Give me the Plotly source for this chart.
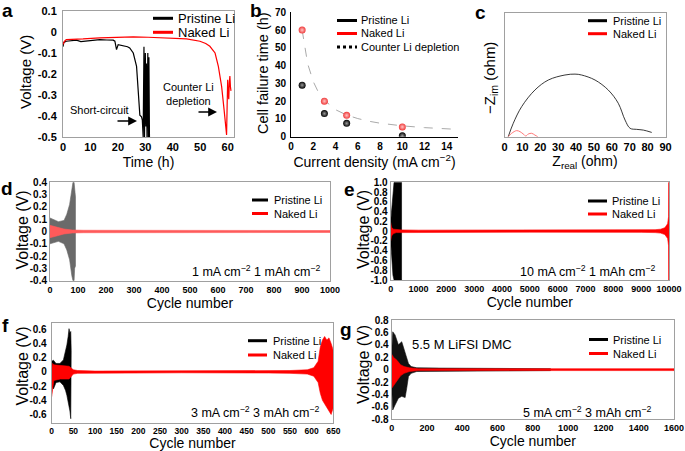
import plotly.graph_objects as go

W, H = 685, 451
FONT = "Arial, 'Liberation Sans', sans-serif"

# ---------------- data ----------------
# (a) voltage vs time
time_pristine = [0, 0.3, 1.2, 3, 4.9, 6.5, 8.5, 11, 13.4, 16, 18.3, 18.9, 19.5, 20.1, 21.9, 23.5, 24.3,
                 25.6, 26.8, 27.4, 28.0, 28.6, 28.9, 29.2, 29.5, 29.7, 30.0, 30.2, 30.4, 30.6, 30.9,
                 31.1, 31.3, 31.5]
volt_pristine = [-0.07, -0.05, -0.044, -0.04, -0.039, -0.046, -0.044, -0.04, -0.036, -0.038, -0.039,
                 -0.044, -0.084, -0.06, -0.065, -0.07, -0.076, -0.1, -0.164, -0.26, -0.396, -0.404,
                 -0.42, -0.5, -0.07, -0.5, -0.1, -0.45, -0.15, -0.5, -0.1, -0.5, -0.12, -0.5]
time_naked = [0, 0.5, 1.2, 4, 7.3, 13.4, 20, 25.6, 31, 37.7, 45, 49.9, 52, 53.5, 55.4, 56.6, 57.8,
              58.7, 59.4, 59.6, 59.8, 60.0, 60.2, 60.4, 60.6, 60.8, 61.0, 61.2]
volt_naked = [-0.06, -0.045, -0.036, -0.035, -0.033, -0.028, -0.026, -0.023, -0.025, -0.028, -0.033,
              -0.044, -0.055, -0.068, -0.1, -0.164, -0.26, -0.372, -0.468, -0.49, -0.35, -0.228,
              -0.3, -0.32, -0.24, -0.21, -0.26, -0.28]

# (b) cell failure time vs current density
current = [1, 3, 5, 10]
fail_pristine = [29, 13, 7.5, 0.5]
fail_naked = [60, 20, 12, 5.5]
depl_x = [1, 1.5, 2, 2.5, 3, 4, 5, 6, 7, 8, 10, 12, 15]
depl_y = [60, 41, 31, 24.5, 20.5, 15.2, 12.2, 10.2, 8.7, 7.6, 6.1, 5.1, 4.1]

# (c) Nyquist plot
zre_pristine = [2.1, 4.9, 9.6, 17.0, 24.5, 33.8, 39.4, 43.1, 50.6, 58.0, 63.6, 67.4, 70.2, 73.9, 77.6, 82.3]
zim_pristine = [0, 7.5, 16.8, 26.1, 31.7, 34.5, 35.0, 34.5, 31.7, 26.1, 18.7, 9.3, 4.7, 4.1, 3.7, 2.4]
zre_naked = [2.1, 4.0, 6.8, 8.7, 10.5, 11.9, 13.3, 15.2, 17.0, 18.6]
zim_naked = [0, 1.9, 3.4, 2.8, 1.5, 0.4, 1.5, 1.9, 0.9, 0]

# (d) 1 mA cm-2, 1 mAh cm-2 : voltage envelopes
d_pri_cyc = [0, 10, 30, 50, 60, 70, 78, 82, 86, 88, 91]
d_pri_hi = [0.11, 0.1, 0.08, 0.09, 0.14, 0.22, 0.35, 0.4, 0.4, 0.33, 0.28]
d_pri_lo = [-0.1, -0.09, -0.08, -0.1, -0.15, -0.23, -0.36, -0.4, -0.4, -0.3, -0.28]
d_nak_cyc = [0, 10, 30, 50, 80, 120, 1000]
d_nak_hi = [0.05, 0.045, 0.035, 0.02, 0.012, 0.01, 0.008]
d_nak_lo = [-0.05, -0.045, -0.035, -0.02, -0.012, -0.01, -0.008]

# (e) 10 mA cm-2, 1 mAh cm-2
e_pri_cyc = [0, 40, 80, 120, 380, 390]
e_pri_hi = [0.2, 0.45, 0.85, 1.0, 1.0, 1.0]
e_pri_lo = [-0.2, -0.5, -0.9, -1.0, -1.0, -1.0]
e_nak_cyc = [0, 30, 100, 200, 400, 1000, 5000, 9000, 9500, 9700, 9850, 9950, 9985, 9990, 10000]
e_nak_hi = [0.18, 0.08, 0.04, 0.03, 0.025, 0.02, 0.02, 0.025, 0.03, 0.04, 0.07, 0.15, 0.3, 1.0, 1.0]
e_nak_lo = [-0.2, -0.1, -0.05, -0.03, -0.025, -0.02, -0.02, -0.025, -0.03, -0.04, -0.07, -0.15, -0.3, -1.0, -1.0]

# (f) 3 mA cm-2, 3 mAh cm-2
f_pri_cyc = [0, 4, 10, 19, 27, 32, 35, 38, 40, 42, 44, 45]
f_pri_hi = [0.15, 0.165, 0.12, 0.12, 0.17, 0.28, 0.38, 0.5, 0.61, 0.55, 0.57, 0.3]
f_pri_lo = [-0.15, -0.24, -0.15, -0.14, -0.19, -0.26, -0.33, -0.4, -0.47, -0.55, -0.66, -0.3]
f_nak_cyc = [0, 2, 5, 20, 40, 50, 60, 100, 300, 500, 550, 590, 605, 615, 620, 625, 630, 635, 640, 645, 650]
f_nak_hi = [0.05, 0.12, 0.1, 0.09, 0.08, 0.03, 0.02, 0.012, 0.012, 0.015, 0.02, 0.03, 0.06, 0.15, 0.35,
            0.45, 0.5, 0.45, 0.48, 0.4, 0.3]
f_nak_lo = [-0.35, -0.25, -0.12, -0.1, -0.1, -0.03, -0.02, -0.012, -0.012, -0.015, -0.02, -0.03, -0.06,
            -0.15, -0.3, -0.4, -0.45, -0.5, -0.55, -0.6, -0.5]

# (g) 5 mA cm-2, 3 mAh cm-2, 5.5 M LiFSI DMC
g_pri_cyc = [0, 6, 19, 38, 57, 76, 85, 95, 110, 142, 274, 500, 700, 900]
g_pri_hi = [0.3, 0.61, 0.56, 0.4, 0.45, 0.26, 0.2, 0.1, 0.05, 0.03, 0.025, 0.02, 0.02, 0.015]
g_pri_lo = [-0.3, -0.65, -0.57, -0.46, -0.43, -0.45, -0.3, -0.11, -0.06, -0.03, -0.025, -0.02, -0.02, -0.015]
g_nak_cyc = [0, 10, 30, 50, 70, 100, 150, 700, 1600]
g_nak_hi = [0.25, 0.2, 0.15, 0.08, 0.05, 0.03, 0.015, 0.012, 0.015]
g_nak_lo = [-0.3, -0.25, -0.18, -0.1, -0.06, -0.03, -0.015, -0.012, -0.015]

# tick labels
a_yticks = [0.1, 0, -0.1, -0.2, -0.3, -0.4, -0.5]
d_yticks = [0.4, 0.3, 0.2, 0.1, 0, -0.1, -0.2, -0.3, -0.4]
e_yticks = [1.0, 0.8, 0.6, 0.4, 0.2, 0, -0.2, -0.4, -0.6, -0.8, -1.0]
f_yticks = [0.6, 0.4, 0.2, 0, -0.2, -0.4, -0.6]
g_yticks = [0.8, 0.6, 0.4, 0.2, 0, -0.2, -0.4, -0.6, -0.8]
d_xticks = list(range(0, 1001, 100))
e_xticks = list(range(0, 10001, 1000))
f_xticks = list(range(0, 651, 50))
g_xticks = list(range(0, 1601, 200))


def fmt(v, dec):
    if v == 0:
        return "0"
    return ("-" if v < 0 else "") + f"{abs(v):.{dec}f}"


# ---------------- helpers ----------------
def px(x):
    return x / W


def py(y):
    return 1 - y / H


fig = go.Figure()

BLACK = "#000000"
RED = "#ff0000"


def band(cyc, hi, lo, color, ax, name):
    fig.add_trace(go.Scatter(
        x=cyc + cyc[::-1], y=hi + lo[::-1], fill="toself", fillcolor=color,
        line=dict(color=color, width=0.6), mode="lines", name=name,
        showlegend=False, xaxis="x" + ax, yaxis="y" + ax, hoverinfo="skip"))


# (a)
fig.add_trace(go.Scatter(x=time_pristine, y=volt_pristine, mode="lines", name="Pristine Li",
                         line=dict(color=BLACK, width=1.2), showlegend=False, xaxis="x", yaxis="y"))
fig.add_trace(go.Scatter(x=time_naked, y=volt_naked, mode="lines", name="Naked Li",
                         line=dict(color=RED, width=1.2), showlegend=False, xaxis="x", yaxis="y"))

# (b)
fig.add_trace(go.Scatter(x=depl_x, y=depl_y, mode="lines", name="Counter Li depletion",
                         line=dict(color="#aaaaaa", width=1, dash="dash"), showlegend=False,
                         xaxis="x2", yaxis="y2"))
fig.add_trace(go.Scatter(x=current, y=fail_pristine, mode="markers", name="Pristine Li",
                         marker=dict(color="#000000", size=7,
                                     gradient=dict(type="radial", color="#9a9a9a")),
                         showlegend=False, xaxis="x2", yaxis="y2"))
fig.add_trace(go.Scatter(x=current, y=fail_naked, mode="markers", name="Naked Li",
                         marker=dict(color="#f03a3a", size=7,
                                     gradient=dict(type="radial", color="#ffc4c4")),
                         showlegend=False, xaxis="x2", yaxis="y2"))

# (c)
fig.add_trace(go.Scatter(x=zre_pristine, y=zim_pristine, mode="lines", name="Pristine Li",
                         line=dict(color="#222222", width=0.9, shape="spline"), showlegend=False,
                         xaxis="x3", yaxis="y3"))
fig.add_trace(go.Scatter(x=zre_naked, y=zim_naked, mode="lines", name="Naked Li",
                         line=dict(color="#ff6a6a", width=0.9, shape="spline"), showlegend=False,
                         xaxis="x3", yaxis="y3"))

# (d)-(g)
band(d_pri_cyc, d_pri_hi, d_pri_lo, "#6a6a6a", "4", "Pristine Li")
band(d_nak_cyc, d_nak_hi, d_nak_lo, "#ff5a5a", "4", "Naked Li")
band(e_pri_cyc, e_pri_hi, e_pri_lo, "#000000", "5", "Pristine Li")
band(e_nak_cyc, e_nak_hi, e_nak_lo, "#ff0000", "5", "Naked Li")
band(f_pri_cyc, f_pri_hi, f_pri_lo, "#000000", "6", "Pristine Li")
band(f_nak_cyc, f_nak_hi, f_nak_lo, "#ff0000", "6", "Naked Li")
band(g_pri_cyc, g_pri_hi, g_pri_lo, "#111111", "7", "Pristine Li")
band(g_nak_cyc, g_nak_hi, g_nak_lo, "#ff0000", "7", "Naked Li")

FRAME = "#a0a0a0"


def axis(dom, rng, tickvals=None, ticktext=None, title=None, standoff=5, tsize=10, frame=True,
         showticklabels=True, ticklen=0, linecolor=FRAME, anchor=None, titlesize=14):
    d = dict(domain=dom, range=rng, showgrid=False, zeroline=False, showline=True,
             linecolor=linecolor, linewidth=1, mirror=frame, automargin=False,
             ticks="outside" if ticklen else "", ticklen=ticklen, tickcolor="rgba(0,0,0,0)",
             showticklabels=showticklabels, ticklabeloverflow="allow",
             tickfont=dict(family=FONT, size=tsize, color="#000", weight="bold"),
             anchor=anchor)
    if tickvals is not None:
        d["tickmode"] = "array"
        d["tickvals"] = tickvals
        if ticktext is not None:
            d["ticktext"] = ticktext
    if title:
        d["title"] = dict(text=title, standoff=standoff,
                          font=dict(family=FONT, size=titlesize, color="#000"))
    return d


layout = dict(
    width=W, height=H, margin=dict(l=0, r=0, t=0, b=0), autosize=False,
    template="none", plot_bgcolor="white", paper_bgcolor="white", showlegend=False,
    font=dict(family=FONT, color="#000"),
)

# (a) axes
layout["xaxis"] = axis([px(63), px(234)], [0, 62.3], list(range(0, 61, 10)), None, "Time (h)", 4, 11,
                       anchor="y")
layout["yaxis"] = axis([py(137), py(11)], [-0.5, 0.1], a_yticks, [fmt(v, 1) for v in a_yticks],
                       None, 0, 11, ticklen=3, anchor="x")
# (b) axes
layout["xaxis2"] = axis([px(291), px(458)], [0, 15], list(range(0, 15, 2)), None,
                        "Current density (mA cm<sup>−2</sup>)", 4, 10, frame=False, linecolor="#000",
                        anchor="y2")
layout["yaxis2"] = axis([py(136.7), py(12.3)], [0, 70], list(range(0, 71, 10)), None,
                        None, 0, 10, frame=False, linecolor="#000", ticklen=2, anchor="x2")
# (c) axes
layout["xaxis3"] = axis([px(504.5), px(665.5)], [0, 90], list(range(0, 91, 10)), None,
                        "Z<sub>real</sub> (ohm)", 3, 11, anchor="y3")
layout["yaxis3"] = axis([py(136.7), py(13.3)], [0, 69], None, None, None, 0, 11,
                        showticklabels=False, anchor="x3")
# (d)
layout["xaxis4"] = axis([px(50), px(330)], [0, 1000], d_xticks, [str(v) for v in d_xticks],
                        "Cycle number", 4, 9, anchor="y4")
layout["yaxis4"] = axis([py(280.7), py(182.3)], [-0.4, 0.4], d_yticks, [fmt(v, 1) for v in d_yticks],
                        None, 0, 10, anchor="x4")
# (e)
layout["xaxis5"] = axis([px(390.7), px(669)], [0, 10000], e_xticks, [str(v) for v in e_xticks],
                        "Cycle number", 4, 9, anchor="y5")
layout["yaxis5"] = axis([py(280), py(182.3)], [-1, 1], e_yticks, [fmt(v, 1) for v in e_yticks],
                        None, 0, 10, anchor="x5")
# (f)
layout["xaxis6"] = axis([px(51.7), px(333.3)], [0, 650], f_xticks, [str(v) for v in f_xticks],
                        "Cycle number", 4, 8.5, anchor="y6")
layout["yaxis6"] = axis([py(423), py(323)], [-0.72, 0.69], f_yticks, [fmt(v, 1) for v in f_yticks],
                        None, 0, 10, ticklen=2, anchor="x6")
# (g)
layout["xaxis7"] = axis([px(391.7), px(674)], [0, 1600], g_xticks, [str(v) for v in g_xticks],
                        "Cycle number", 4, 9, anchor="y7")
layout["yaxis7"] = axis([py(419.3), py(320)], [-0.8, 0.8], g_yticks, [fmt(v, 1) for v in g_yticks],
                        None, 0, 10, anchor="x7")

fig.update_layout(**layout)

ann = []
shapes = []


def text(x, y, s, size=11, bold=False, xanchor="center", yanchor="middle", align="center", angle=0):
    ann.append(dict(x=px(x), y=py(y), xref="paper", yref="paper", text=s, showarrow=False,
                    xanchor=xanchor, yanchor=yanchor, align=align, textangle=angle,
                    font=dict(family=FONT, size=size, color="#000",
                              weight="bold" if bold else "normal")))


def legend_line(x0, x1, y, color, dash="solid", width=3):
    shapes.append(dict(type="line", xref="paper", yref="paper", x0=px(x0), x1=px(x1), y0=py(y), y1=py(y),
                       line=dict(color=color, width=width, dash=dash)))


def legend(x0, x1, xt, ys, items, size):
    for (label, color, dash), y in zip(items, ys):
        legend_line(x0, x1, y, color, dash)
        text(xt, y, label, size=size, xanchor="left")


LEG = [("Pristine Li", BLACK, "solid"), ("Naked Li", RED, "solid")]

# panel letters
for lab, x, y in [("a", 7, 10), ("b", 256, 10), ("c", 480, 12), ("d", 7, 188), ("e", 349, 189),
                  ("f", 5, 325), ("g", 346, 329)]:
    text(x, y, lab, size=19, bold=True)

# y-axis titles
text(25, 72, "Voltage (V)", size=15, angle=-90)
text(263, 73, "Cell failure time (h)", size=14.5, angle=-90)
text(490, 78, "−Z<sub>im</sub> (ohm)", size=15, angle=-90)
text(21.5, 230, "Voltage (V)", size=16, angle=-90)
text(363, 230, "Voltage (V)", size=16, angle=-90)
text(21.5, 366, "Voltage (V)", size=16, angle=-90)
text(363, 365, "Voltage (V)", size=16, angle=-90)

legend(153, 173, 176, [18.3, 32.3], LEG, 13)
legend(337, 357, 359, [20.5, 33.5, 47], LEG + [("Counter Li depletion", BLACK, "dot")], 11)
legend(588, 607, 611, [20.7, 33.7], LEG, 11)
legend(252, 268, 272, [200, 213.5], LEG, 11)
legend(588, 607, 610, [201, 214], LEG, 11)
legend(248, 267, 271, [340.7, 355], LEG, 11)
legend(589, 608, 611, [339.5, 353.5], LEG, 11)

# panel (a) annotations
text(99, 110, "Short-circuit", size=11)
text(188, 94, "Counter Li<br>depletion", size=11)
ann.append(dict(x=px(137), y=py(121), xref="paper", yref="paper", ax=-21, ay=0, text="",
                showarrow=True, arrowhead=2, arrowsize=1.1, arrowwidth=1.6, arrowcolor="#000"))
ann.append(dict(x=px(217), y=py(112), xref="paper", yref="paper", ax=-20, ay=0, text="",
                showarrow=True, arrowhead=2, arrowsize=1.1, arrowwidth=1.6, arrowcolor="#000"))

# condition labels
text(322, 271, "1 mA cm<sup>−2</sup> 1 mAh cm<sup>−2</sup>", size=12.5, xanchor="right")
text(657, 271, "10 mA cm<sup>−2</sup> 1 mAh cm<sup>−2</sup>", size=12.5, xanchor="right")
text(321, 411.5, "3 mA cm<sup>−2</sup> 3 mAh cm<sup>−2</sup>", size=12.5, xanchor="right")
text(653, 411.5, "5 mA cm<sup>−2</sup> 3 mAh cm<sup>−2</sup>", size=12.5, xanchor="right")
text(410, 344, "5.5 M LiFSI DMC", size=13, xanchor="left")

fig.update_layout(annotations=ann, shapes=shapes)

fig.write_html("out.html", config={"displayModeBar": False},
               post_script="document.body.style.margin='0';")
